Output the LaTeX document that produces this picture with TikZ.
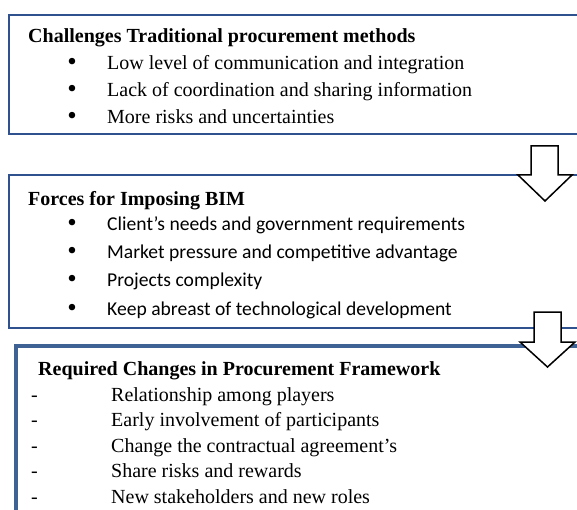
\documentclass[tikz,border=0pt]{standalone}
\usepackage{fontspec}
\setmainfont{Liberation Serif}
\newfontfamily\calibri{Carlito}
\usetikzlibrary{positioning}
\definecolor{boxblue}{RGB}{47,82,143}
\definecolor{boxblueb}{RGB}{62,98,148}

\begin{document}
\begin{tikzpicture}[x=1pt,y=-1pt]
	\tikzstyle{frame}=[draw=boxblue, line width=2pt, inner sep=0pt, anchor=north west]
	\tikzstyle{frame_b}=[draw=boxblueb, line width=4pt, inner sep=0pt, anchor=north west]
	\tikzstyle{head}=[anchor=base west, inner sep=0pt, font=\fontsize{20}{24}\selectfont\bfseries]
	\tikzstyle{item}=[anchor=base west, inner sep=0pt, font=\fontsize{20}{24}\selectfont]
	\tikzstyle{item_s}=[anchor=base west, inner sep=0pt, font=\fontsize{19.6}{24}\selectfont\calibri]
	\tikzstyle{bul}=[anchor=base, inner sep=0pt, font=\fontsize{27}{30}\selectfont]
	\tikzstyle{blockarrow}=[draw=black, line width=1.5pt, fill=white, line join=miter]

	\useasboundingbox (0,0) rectangle (577,510);

	\node[frame, minimum width=600pt, minimum height=119pt] (chal) at (8,14) {};
	\node[frame, minimum width=600pt, minimum height=153pt] (force) at (8,174) {};
	\node[frame_b, minimum width=600pt, minimum height=200pt] (change) at (14,344) {};

	% challenges
	\node[head] (chal_t) at (28,43) {Challenges Traditional procurement methods};
	\foreach \txt [count=\i] in {Low level of communication and integration,
		Lack of coordination and sharing information,
		More risks and uncertainties} {
		\node[bul] (chal_b\i) at (72,44+27*\i) {\textbullet};
		\node[item] (chal_i\i) at (107,43+27*\i) {\txt};
	}

	% forces
	\node[head] (force_t) at (28,206) {Forces for Imposing BIM};
	\begin{scope}
		\clip (0,0) rectangle (577,318);
		\foreach \txt [count=\i] in {Client’s needs and government requirements,
			Market pressure and competitive advantage,
			Projects complexity,
			Keep abreast of technological development} {
			\node[bul] (force_b\i) at (72,203+28.3*\i) {\textbullet};
			\node[item_s] (force_i\i) at (107,202+28.3*\i) {\txt};
		}
	\end{scope}

	% changes
	\node[head] (change_t) at (38,375) {Required Changes in Procurement Framework};
	\foreach \txt [count=\i] in {Relationship among players,
		Early involvement of participants,
		Change the contractual agreement’s,
		Share risks and rewards,
		New stakeholders and new roles} {
		\node[item] (change_d\i) at (31,376+25.4*\i) {-};
		\node[item] (change_i\i) at (111,376+25.4*\i) {\txt};
	}

	% arrows
	\draw[blockarrow] (531,146) -- (558,146) -- (558,175) -- (572,175)
		-- (545,201) -- (518,175) -- (531,175) -- cycle;
	\draw[blockarrow] (534,312) -- (561,312) -- (561,342) -- (575,342)
		-- (547.5,367) -- (520,342) -- (534,342) -- cycle;
\end{tikzpicture}
\end{document}
